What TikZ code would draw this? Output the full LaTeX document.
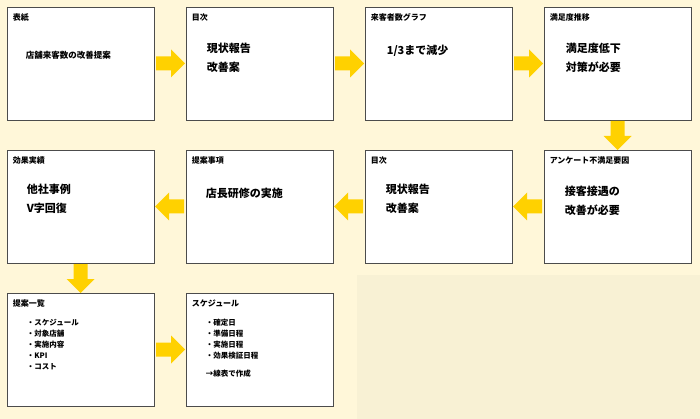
\documentclass[tikz,border=0pt]{standalone}
\usepackage{fontspec}
\setmainfont{Noto Sans CJK JP}
\usetikzlibrary{calc}
\definecolor{paper}{HTML}{FFF7D9}
\definecolor{paperdim}{HTML}{F8F1D4}
\definecolor{flowyellow}{HTML}{FFD100}

\begin{document}
\begin{tikzpicture}[x=1pt,y=-1pt,
slide/.style={draw=black!70,fill=white,line width=0.8pt,minimum width=147pt,minimum height=113pt,inner sep=0pt},
ttl/.style={anchor=north west,inner sep=0pt,font=\fontsize{8}{9}\selectfont\bfseries},
body/.style={anchor=north west,inner sep=0pt,align=left,font=\fontsize{11}{19}\selectfont\bfseries},
small/.style={anchor=north west,inner sep=0pt,align=left,font=\fontsize{7.5}{11}\selectfont\bfseries},
flow/.pic={\fill[flowyellow] (-14,-7) -- (1,-7) -- (1,-14) -- (15,0) -- (1,14) -- (1,7) -- (-14,7) -- cycle;}]

\fill[paper] (0,0) rectangle (700,419);
\fill[paperdim] (357,275) rectangle (700,419);

% top row
\node[slide] (s1) at (80.5,63.5) {};
\node[slide] (s2) at (259.5,63.5) {};
\node[slide] (s3) at (438.5,63.5) {};
\node[slide] (s4) at (617.5,63.5) {};
% middle row
\node[slide] (s5) at (617.5,206.5) {};
\node[slide] (s6) at (438.5,206.5) {};
\node[slide] (s7) at (259.5,206.5) {};
\node[slide] (s8) at (80.5,206.5) {};
% bottom row
\node[slide] (s9) at (80.5,349.5) {};
\node[slide] (s10) at (259.5,349.5) {};

\node[ttl] at ($(s1.north west)+(6,7)$) {表紙};
\node[ttl] at ($(s2.north west)+(6,7)$) {目次};
\node[ttl] at ($(s3.north west)+(6,7)$) {来客者数グラフ};
\node[ttl] at ($(s4.north west)+(6,7)$) {満足度推移};
\node[ttl] at ($(s5.north west)+(6,7)$) {アンケート不満足要因};
\node[ttl] at ($(s6.north west)+(6,7)$) {目次};
\node[ttl] at ($(s7.north west)+(6,7)$) {提案事項};
\node[ttl] at ($(s8.north west)+(6,7)$) {効果実績};
\node[ttl] at ($(s9.north west)+(6,7)$) {提案一覧};
\node[ttl] at ($(s10.north west)+(6,7)$) {スケジュール};

\node[small,font=\fontsize{8.5}{11}\selectfont\bfseries] at ($(s1.north west)+(19,44)$) {店舗来客数の改善提案};
\node[body] at ($(s2.north west)+(21,36)$) {現状報告\\改善案};
\node[body] at ($(s3.north west)+(22,38)$) {1/3まで減少};
\node[body] at ($(s4.north west)+(22,36)$) {満足度低下\\対策が必要};
\node[body] at ($(s5.north west)+(21,36)$) {接客接遇の\\改善が必要};
\node[body] at ($(s6.north west)+(21,34)$) {現状報告\\改善案};
\node[body] at ($(s7.north west)+(20,38)$) {店長研修の実施};
\node[body] at ($(s8.north west)+(20,34)$) {他社事例\\V字回復};
\node[small] at ($(s9.north west)+(20,26)$) {・スケジュール\\・対象店舗\\・実施内容\\・KPI\\・コスト};
\node[small] at ($(s10.north west)+(20,26)$) {・確定日\\・準備日程\\・実施日程\\・効果検証日程\\[7pt]→線表で作成};

% arrows
\pic at ($(s1.east)!0.5!(s2.west)$) {flow};
\pic at ($(s2.east)!0.5!(s3.west)$) {flow};
\pic at ($(s3.east)!0.5!(s4.west)$) {flow};
\pic[rotate=-90] at ($(s4.south)!0.5!(s5.north)$) {flow};
\pic[rotate=180] at ($(s5.west)!0.5!(s6.east)$) {flow};
\pic[rotate=180] at ($(s6.west)!0.5!(s7.east)$) {flow};
\pic[rotate=180] at ($(s7.west)!0.5!(s8.east)$) {flow};
\pic[rotate=-90] at ($(s8.south)!0.5!(s9.north)$) {flow};
\pic at ($(s9.east)!0.5!(s10.west)$) {flow};
\end{tikzpicture}
\end{document}
